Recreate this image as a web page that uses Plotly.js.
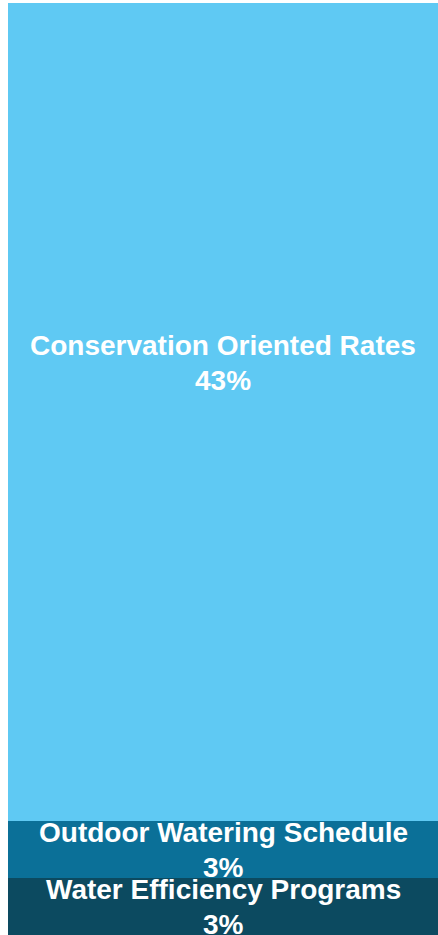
<!DOCTYPE html>
<html>
<head>
<meta charset="utf-8">
<script src="https://cdn.plot.ly/plotly-3.0.1.min.js"></script>
<style>html,body{margin:0;padding:0;background:#fff;}#chart{width:438px;height:935px;}</style>
</head>
<body>
<div id="chart"></div>
<script>
// Data (bottom to top in the stack)
var categories = ["Water Efficiency Programs", "Outdoor Watering Schedule", "Conservation Oriented Rates"];
var shares = [3, 3, 43];
var colors = ["#0c4a60", "#0b7098", "#5fc9f3"];

var labelFont = { family: "Liberation Sans, Arial, sans-serif", size: 28, color: "#ffffff", weight: "bold" };

var traces = categories.map(function (c, i) {
  return {
    type: "bar",
    x: [0],
    y: [shares[i]],
    name: c,
    marker: { color: colors[i], line: { width: 0 } },
    hovertemplate: c + ": %{y}%<extra></extra>"
  };
});

var total = shares.reduce(function (a, b) { return a + b; }, 0);

// Labels: two lines per segment (name, share). Big segment: above its middle; small ones: from the top edge down.
var annotations = [];
var base = 0;
shares.forEach(function (v, i) {
  var top = base + v;
  var big = v > total / 2;
  var anchorY = big ? base + v / 2 : top;
  var shifts = big ? [66, 31] : [-12, -47];
  [categories[i], v + "%"].forEach(function (t, k) {
    annotations.push({
      x: 0, xref: "x",
      y: anchorY, yref: "y",
      yanchor: "middle",
      yshift: shifts[k],
      text: t,
      showarrow: false,
      font: labelFont
    });
  });
  base = top;
});

var layout = {
  width: 438,
  height: 935,
  margin: { l: 8, r: 0, t: 3, b: 0, pad: 0 },
  barmode: "stack",
  bargap: 0,
  showlegend: false,
  paper_bgcolor: "#ffffff",
  plot_bgcolor: "#ffffff",
  xaxis: { visible: false, range: [-0.5, 0.5], fixedrange: true },
  yaxis: { visible: false, range: [0, total], fixedrange: true },
  annotations: annotations
};

Plotly.newPlot("chart", traces, layout, { displayModeBar: false, staticPlot: true });
</script>
</body>
</html>
